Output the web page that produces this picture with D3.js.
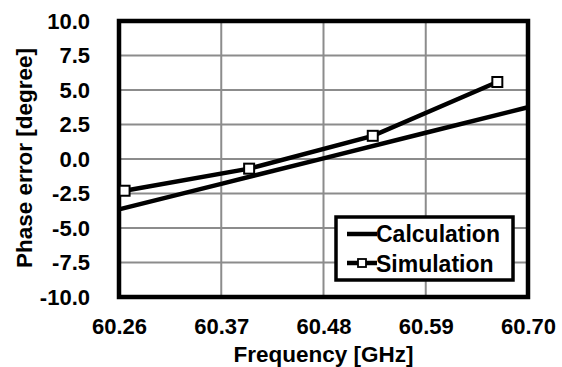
<!DOCTYPE html>
<html>
<head>
<meta charset="utf-8">
<script src="https://cdn.jsdelivr.net/npm/d3@7"></script>
<style>
  body { margin: 0; background: #fff; }
  text { font-family: "Liberation Sans", Arial, sans-serif; font-weight: bold; fill: #000; }
</style>
</head>
<body>
<div id="chart"></div>
<script>
// values
var freqTicks = [60.26, 60.37, 60.48, 60.59, 60.70];
var phaseTicks = [-10, -7.5, -5, -2.5, 0, 2.5, 5, 7.5, 10];
var calcFreq = [60.26, 60.37, 60.48, 60.59, 60.70];
var calcPhase = [-3.65, -1.8, 0.05, 1.9, 3.75];
var simFreq = [60.266, 60.400, 60.533, 60.667];
var simPhase = [-2.3, -0.7, 1.68, 5.58];

var W = 562, H = 367,
    margin = {top: 21, right: 34, bottom: 70, left: 119},
    width = W - margin.left - margin.right,
    height = H - margin.top - margin.bottom;

var svg = d3.select("#chart").append("svg")
    .attr("width", W)
    .attr("height", H);

var g = svg.append("g")
    .attr("transform", "translate(" + margin.left + "," + margin.top + ")");

var x = d3.scaleLinear().domain([60.26, 60.70]).range([0, width]);
var y = d3.scaleLinear().domain([-10, 10]).range([height, 0]);

// grid
g.append("g").selectAll("line").data(phaseTicks).enter().append("line")
    .attr("x1", 0).attr("x2", width)
    .attr("y1", function(d) { return y(d); })
    .attr("y2", function(d) { return y(d); })
    .attr("stroke", "#8c8c8c").attr("stroke-width", 2);

g.append("g").selectAll("line").data(freqTicks).enter().append("line")
    .attr("y1", 0).attr("y2", height)
    .attr("x1", function(d) { return x(d); })
    .attr("x2", function(d) { return x(d); })
    .attr("stroke", "#8c8c8c").attr("stroke-width", 2);

// axes (labels only)
var xAxis = d3.axisBottom(x).tickValues(freqTicks)
    .tickFormat(function(d) { return d.toFixed(2); })
    .tickSize(0).tickPadding(21);
var yAxis = d3.axisLeft(y).tickValues(phaseTicks)
    .tickFormat(function(d) { return d.toFixed(1); })
    .tickSize(0).tickPadding(29);

g.append("g").attr("class", "axis")
    .attr("transform", "translate(0," + height + ")")
    .call(xAxis);
g.append("g").attr("class", "axis")
    .call(yAxis);

svg.selectAll(".axis .domain").remove();
svg.selectAll(".axis text")
    .style("font-family", "'Liberation Sans', Arial, sans-serif")
    .style("font-weight", "bold")
    .style("font-size", "22px")
    .attr("fill", "#000");

// frame
g.append("rect")
    .attr("width", width).attr("height", height)
    .attr("fill", "none").attr("stroke", "#000").attr("stroke-width", 4.5);

// series
var calc = calcFreq.map(function(f, i) { return {f: f, p: calcPhase[i]}; });
var sim = simFreq.map(function(f, i) { return {f: f, p: simPhase[i]}; });

var line = d3.line()
    .x(function(d) { return x(d.f); })
    .y(function(d) { return y(d.p); });

g.append("path").datum(calc)
    .attr("d", line)
    .attr("fill", "none").attr("stroke", "#000").attr("stroke-width", 4.5);

g.append("path").datum(sim)
    .attr("d", line)
    .attr("fill", "none").attr("stroke", "#000").attr("stroke-width", 4.5);

g.selectAll(".marker").data(sim).enter().append("rect")
    .attr("class", "marker")
    .attr("x", function(d) { return x(d.f) - 5; })
    .attr("y", function(d) { return y(d.p) - 5; })
    .attr("width", 10).attr("height", 10)
    .attr("fill", "#fff").attr("stroke", "#000").attr("stroke-width", 2);

// legend
var legend = svg.append("g").attr("transform", "translate(336,217)");
legend.append("rect")
    .attr("width", 177).attr("height", 63)
    .attr("fill", "#fff").attr("stroke", "#000").attr("stroke-width", 3.5);

legend.append("line")
    .attr("x1", 11).attr("x2", 41).attr("y1", 17).attr("y2", 17)
    .attr("stroke", "#000").attr("stroke-width", 4.5);
legend.append("text").attr("x", 40).attr("y", 25)
    .style("font-size", "23px").text("Calculation");

legend.append("line")
    .attr("x1", 11).attr("x2", 41).attr("y1", 46).attr("y2", 46)
    .attr("stroke", "#000").attr("stroke-width", 4.5);
legend.append("rect")
    .attr("x", 22).attr("y", 42).attr("width", 8).attr("height", 8)
    .attr("fill", "#fff").attr("stroke", "#000").attr("stroke-width", 1.8);
legend.append("text").attr("x", 40).attr("y", 55)
    .style("font-size", "23px").text("Simulation");

// axis titles
svg.append("text")
    .attr("x", margin.left + width / 2).attr("y", 362)
    .style("text-anchor", "middle")
    .style("font-size", "22.5px")
    .text("Frequency [GHz]");

svg.append("text")
    .attr("transform", "rotate(-90)")
    .attr("x", -158).attr("y", 32)
    .style("text-anchor", "middle")
    .style("font-size", "22.5px")
    .text("Phase error [degree]");
</script>
</body>
</html>
